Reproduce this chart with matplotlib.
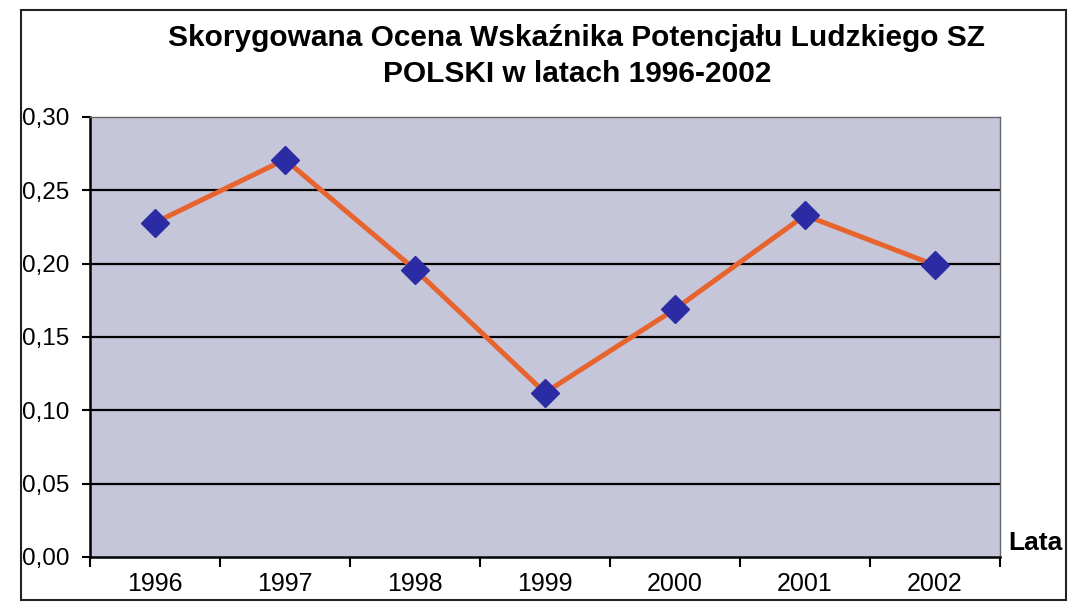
import matplotlib
matplotlib.use("Agg")
import matplotlib.pyplot as plt
from matplotlib.patches import Rectangle
import numpy as np

years = ["1996", "1997", "1998", "1999", "2000", "2001", "2002"]
values = [0.228, 0.271, 0.196, 0.112, 0.169, 0.233, 0.199]
y_ticks = [0.00, 0.05, 0.10, 0.15, 0.20, 0.25, 0.30]
y_labels = ["0,00", "0,05", "0,10", "0,15", "0,20", "0,25", "0,30"]
title = "Skorygowana Ocena Wskaźnika Potencjału Ludzkiego SZ\nPOLSKI w latach 1996-2002"
x_label = "Lata"

plt.rcParams['font.family'] = ['Liberation Sans', 'DejaVu Sans']

fig = plt.figure(figsize=(10.8, 6.09), dpi=100)
fig.patch.set_facecolor("white")

# outer chart frame
fig.patches.append(Rectangle((21/1080, 1-600/609), (1066-21)/1080, (600-10)/609,
                             transform=fig.transFigure, fill=False,
                             edgecolor="#222222", linewidth=1.5))

ax = fig.add_axes([90/1080, 1-557/609, 910/1080, 440/609])
ax.set_facecolor("#C6C6DB")

x = np.arange(len(years))
ax.set_xlim(-0.5, len(years) - 0.5)
ax.set_ylim(0, 0.30)

for t in y_ticks[1:-1]:
    ax.axhline(t, color="black", linewidth=1.6, zorder=1)

ax.plot(x, values, color="#E8642E", linewidth=3.6, zorder=3)
ax.plot(x, values, linestyle="none", marker="D", markersize=14,
        markerfacecolor="#2B2BA3", markeredgecolor="#2B2BA3", zorder=4)

ax.set_yticks(y_ticks)
ax.set_yticklabels(y_labels, fontsize=17.5)
ax.set_xticks(np.arange(-0.5, len(years)), minor=False)
ax.set_xticklabels([])
ax.set_xticks(x, minor=True)
ax.set_xticklabels(years, minor=True, fontsize=18)
ax.tick_params(axis="x", which="major", length=7, width=1.5, direction="out", color="black")
ax.tick_params(axis="x", which="minor", length=0, pad=11)
ax.tick_params(axis="y", length=6, width=1.5, direction="out", pad=9)

ax.spines["left"].set_color("black")
ax.spines["left"].set_linewidth(1.8)
ax.spines["bottom"].set_color("black")
ax.spines["bottom"].set_linewidth(1.8)
ax.spines["top"].set_color("#666666")
ax.spines["top"].set_linewidth(1.0)
ax.spines["right"].set_color("#666666")
ax.spines["right"].set_linewidth(1.0)

fig.text(577/1080, 1-56/609, title, ha="center", va="center", fontsize=21.5,
         fontweight="bold", linespacing=1.4)
fig.text(1008/1080, 1-543/609, x_label, ha="left", va="center", fontsize=19,
         fontweight="bold")

fig.savefig("out.png", dpi=100)
